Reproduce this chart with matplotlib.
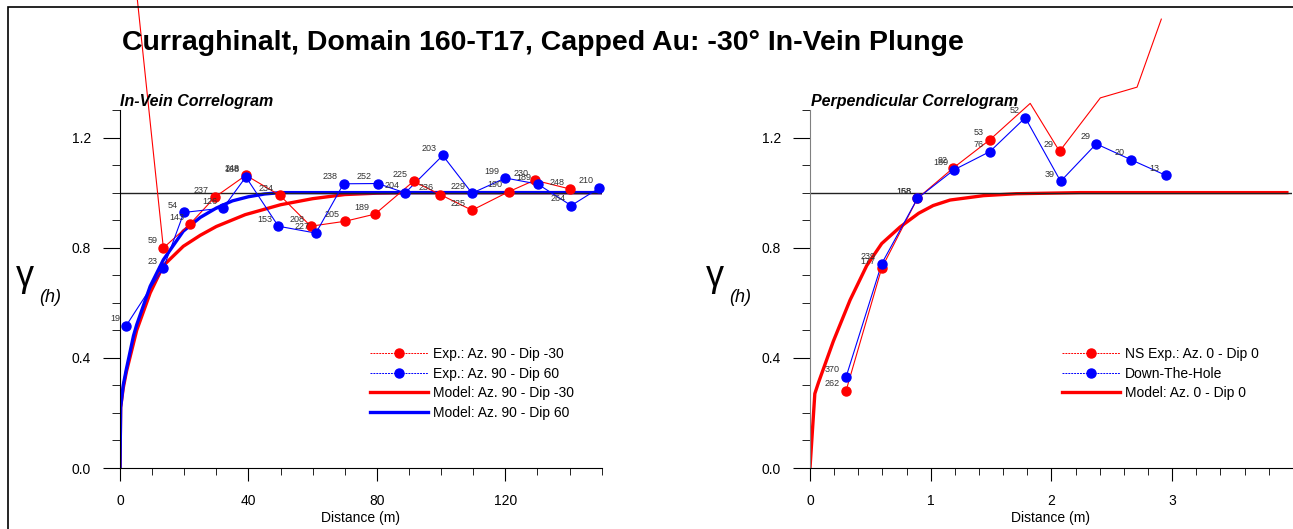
import matplotlib
matplotlib.use("Agg")
import matplotlib.pyplot as plt
from matplotlib.lines import Line2D
from matplotlib.patches import Rectangle
from matplotlib.ticker import MultipleLocator

plt.rcParams['font.family'] = ['Liberation Sans', 'DejaVu Sans']

# ---- In-Vein correlogram (left) ----
inv_red_x = [2.0, 13.5, 21.8, 29.6, 39.2, 49.8, 59.4, 70.1, 79.4, 91.4, 99.7, 109.6, 121.0, 129.1, 140.2]
inv_red_y = [2.08, 0.799, 0.886, 0.984, 1.063, 0.990, 0.878, 0.896, 0.922, 1.041, 0.993, 0.936, 1.003, 1.045, 1.013]
inv_red_n = [None, 59, 143, 237, 248, 234, 208, 205, 189, 225, 236, 225, 190, 230, 248]

inv_blue_x = [1.87, 13.5, 19.9, 32.1, 39.2, 49.3, 61.0, 69.6, 80.3, 88.8, 100.5, 109.6, 120.0, 130.1, 140.5, 149.3]
inv_blue_y = [0.516, 0.725, 0.928, 0.944, 1.057, 0.878, 0.853, 1.032, 1.033, 0.999, 1.135, 0.998, 1.053, 1.031, 0.953, 1.017]
inv_blue_n = [19, 23, 54, 126, 168, 153, 227, 238, 252, 204, 203, 229, 199, 189, 264, 210]

# model curves
mod_red_x = [0, 0.2, 1, 2, 5.2, 9.4, 13.5, 19.7, 25, 30, 39, 50, 60, 70, 80, 90, 150]
mod_red_y = [0, 0.22, 0.29, 0.35, 0.50, 0.636, 0.735, 0.805, 0.845, 0.877, 0.92, 0.956, 0.978, 0.993, 0.998, 1.0, 1.0]
mod_blue_x = [0, 0.2, 1, 2, 4.2, 5.2, 9.4, 13.5, 19.7, 25, 30, 35, 40, 45, 50, 150]
mod_blue_y = [0, 0.22, 0.30, 0.36, 0.48, 0.52, 0.66, 0.756, 0.86, 0.91, 0.944, 0.97, 0.985, 0.995, 1.0, 1.0]

# ---- Perpendicular correlogram (right) ----
per_red_x = [0.299, 0.594, 0.89, 1.188, 1.49, 1.824, 2.067, 2.405, 2.709, 2.91]
per_red_y = [0.281, 0.726, 0.979, 1.090, 1.192, 1.324, 1.150, 1.344, 1.383, 1.63]
per_red_n = [262, 177, 158, 92, 53, None, 29, None, None, None]

per_blue_x = [0.299, 0.594, 0.89, 1.194, 1.49, 1.783, 2.076, 2.371, 2.656, 2.946]
per_blue_y = [0.331, 0.742, 0.979, 1.083, 1.149, 1.272, 1.041, 1.177, 1.12, 1.063]
per_blue_n = [370, 239, 168, 169, 76, 52, 39, 29, 20, 13]

per_mod_x = [0, 0.04, 0.07, 0.193, 0.332, 0.47, 0.594, 0.746, 0.9, 1.02, 1.16, 1.437, 1.71, 2.24, 3.95]
per_mod_y = [0, 0.27, 0.31, 0.46, 0.61, 0.735, 0.815, 0.875, 0.925, 0.953, 0.973, 0.989, 0.996, 1.0, 1.0]

W, H = 1293, 529
fig = plt.figure(figsize=(W / 100, H / 100), dpi=100)

frame = Rectangle((8 / W, -0.1), 2, 1 - 7 / H + 0.1, transform=fig.transFigure,
                  fill=False, edgecolor='black', linewidth=1.2)
fig.add_artist(frame)

ax1 = fig.add_axes([120 / W, 61 / H, 481.7 / W, 358 / H])
ax2 = fig.add_axes([810 / W, 61 / H, 481.7 / W, 358 / H])


def exp_series(ax, xs, ys, ns, color):
    line, = ax.plot(xs, ys, color=color, lw=0.8, zorder=3, clip_on=False)
    line.set_clip_path(frame)
    px = [x for x, y in zip(xs, ys) if y <= 1.3]
    py = [y for y in ys if y <= 1.3]
    ax.plot(px, py, 'o', color=color, ms=6.5, zorder=4, clip_on=False)
    for x, y, n in zip(xs, ys, ns):
        if n is not None and y <= 1.3:
            ax.annotate(str(n), (x, y), xytext=(-6, 7), textcoords='offset pixels',
                        ha='right', va='center', fontsize=6.5, color='#333333', zorder=5)


def style_axes(ax, xmax, major, minor, spine_col):
    ax.set_xlim(0, xmax)
    ax.set_ylim(0, 1.3)
    for s in ['top', 'right']:
        ax.spines[s].set_visible(False)
    ax.spines['left'].set_color(spine_col)
    ax.xaxis.set_major_locator(MultipleLocator(major))
    ax.xaxis.set_minor_locator(MultipleLocator(minor))
    ax.yaxis.set_major_locator(MultipleLocator(0.4))
    ax.yaxis.set_minor_locator(MultipleLocator(0.1))
    ax.tick_params(axis='y', which='major', length=12, direction='out', labelsize=10, pad=9)
    ax.tick_params(axis='y', which='minor', length=6, direction='out')
    ax.tick_params(axis='x', which='major', length=9, direction='out', labelsize=10, pad=10)
    ax.tick_params(axis='x', which='minor', length=5, direction='out')
    ax.yaxis.set_major_formatter(plt.FuncFormatter(lambda v, p: f"{v:.1f}"))
    ax.set_xlabel('Distance (m)', fontsize=10, labelpad=2)
    ax.axhline(1.0, color='#222222', lw=1.0, zorder=2.5)


style_axes(ax1, 150, 40, 10, 'black')
style_axes(ax2, 3.99, 1, 0.2, '#808080')

ax1.plot(mod_red_x, mod_red_y, color='#ff0000', lw=2.4, zorder=2)
ax1.plot(mod_blue_x, mod_blue_y, color='#0000ff', lw=2.4, zorder=2.1)
exp_series(ax1, inv_red_x, inv_red_y, inv_red_n, '#ff0000')
exp_series(ax1, inv_blue_x, inv_blue_y, inv_blue_n, '#0000ff')

ax2.plot(per_mod_x, per_mod_y, color='#ff0000', lw=2.4, zorder=2)
exp_series(ax2, per_red_x, per_red_y, per_red_n, '#ff0000')
exp_series(ax2, per_blue_x, per_blue_y, per_blue_n, '#0000ff')


def exp_handle(color):
    return Line2D([], [], color=color, lw=0.7, ls=(0, (2, 1)), marker='o', ms=6.5)


leg_kw = dict(frameon=False, fontsize=10, handlelength=4.2, handletextpad=0.35,
              labelspacing=0.4, borderpad=0, borderaxespad=0, loc='upper left',
              bbox_transform=fig.transFigure)
h1 = [exp_handle('#ff0000'), exp_handle('#0000ff'),
      Line2D([], [], color='#ff0000', lw=2.4), Line2D([], [], color='#0000ff', lw=2.4)]
ax1.legend(h1, ['Exp.: Az. 90 - Dip -30', 'Exp.: Az. 90 - Dip 60',
                'Model: Az. 90 - Dip -30', 'Model: Az. 90 - Dip 60'],
           bbox_to_anchor=(370 / W, 1 - 347 / H), **leg_kw)
h2 = [exp_handle('#ff0000'), exp_handle('#0000ff'), Line2D([], [], color='#ff0000', lw=2.4)]
ax2.legend(h2, ['NS Exp.: Az. 0 - Dip 0', 'Down-The-Hole', 'Model: Az. 0 - Dip 0'],
           bbox_to_anchor=(1062 / W, 1 - 347 / H), **leg_kw)

# gamma(h) labels
for gx in (25, 715):
    fig.text(gx / W, 1 - 277 / H, 'γ', fontsize=26, ha='center', va='center')
    fig.text((gx + 25) / W, 1 - 298 / H, '(h)', fontsize=13, style='italic', ha='center', va='center')

fig.text(122 / W, 1 - 50 / H, 'Curraghinalt, Domain 160-T17, Capped Au: -30° In-Vein Plunge',
         fontsize=20.5, fontweight='bold', ha='left', va='baseline')
fig.text(120 / W, 1 - 106 / H, 'In-Vein Correlogram', fontsize=11.5, fontweight='bold',
         style='italic', ha='left', va='baseline')
fig.text(811 / W, 1 - 106 / H, 'Perpendicular Correlogram', fontsize=11.5, fontweight='bold',
         style='italic', ha='left', va='baseline')

fig.savefig('out.png', dpi=100)
